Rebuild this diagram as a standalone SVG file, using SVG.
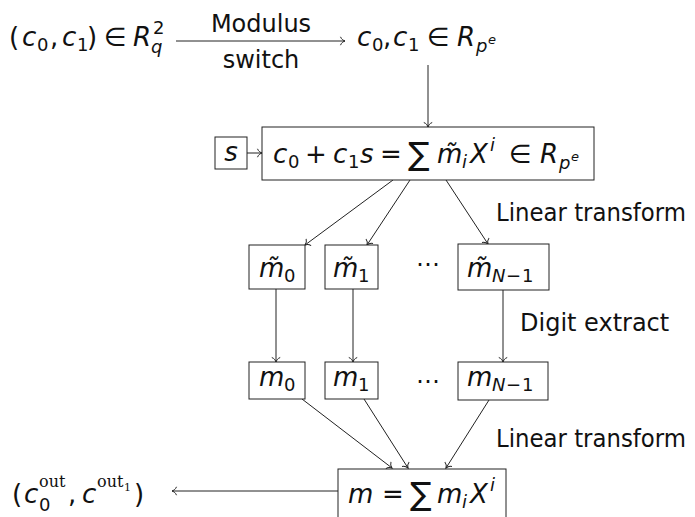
<svg xmlns="http://www.w3.org/2000/svg" width="695" height="517" viewBox="0 0 695 517">
<defs>
<marker id="to" viewBox="-6 -6 8 12" markerWidth="8" markerHeight="12" refX="0" refY="0" orient="auto" markerUnits="userSpaceOnUse">
<path d="M-4.5,-4.2 C-3.6,-1.6 -1.3,-0.4 0,0 C-1.3,0.4 -3.6,1.6 -4.5,4.2" fill="none" stroke="#222" stroke-width="1"/>
</marker>
</defs>
<style>
text{font-family:"DejaVu Sans",sans-serif;font-size:24px;fill:#111}
.m{font-size:26px}
.i{font-style:italic;font-size:26px}
.s{font-size:18px}
.ss{font-size:13px}
.sum{font-size:32px}
.rm{font-family:"DejaVu Serif","Liberation Serif",serif;font-style:normal;font-size:16px}
.rms{font-family:"DejaVu Serif","Liberation Serif",serif;font-style:normal;font-size:11px}
.box{fill:#fff;stroke:#222;stroke-width:1}
.edge{fill:none;stroke:#222;stroke-width:1;marker-end:url(#to)}
.mid{text-anchor:middle}
</style>
<g id="connectors">
<path class="edge" d="M176,41 H345"/>
<path class="edge" d="M428,65 V127"/>
<path class="edge" d="M247,153 H262"/>
<path class="edge" d="M393,180 L305,245"/>
<path class="edge" d="M410,180 L367,245"/>
<path class="edge" d="M446,180 L488,244"/>
<path class="edge" d="M276,289 V362"/>
<path class="edge" d="M353,289 V362"/>
<path class="edge" d="M503,290 V362"/>
<path class="edge" d="M302,399 L392,468"/>
<path class="edge" d="M364,399 L408,468"/>
<path class="edge" d="M489,400 L446,468"/>
<path class="edge" d="M338,491 H172"/>
</g>
<g id="edge-labels">
<text class="mid" x="261" y="32">Modulus</text>
<text class="mid" x="261" y="68">switch</text>
<text x="496" y="221" textLength="190" lengthAdjust="spacingAndGlyphs">Linear transform</text>
<text x="520" y="331">Digit extract</text>
<text x="496" y="447" textLength="190" lengthAdjust="spacingAndGlyphs">Linear transform</text>
</g>
<g id="input">
<text><tspan class="m" x="9" y="46">(</tspan><tspan class="i" x="22" y="46">c</tspan><tspan class="s" x="37" y="51">0</tspan><tspan class="m" x="50" y="46">,</tspan><tspan class="i" x="62" y="46">c</tspan><tspan class="s" x="77" y="51">1</tspan><tspan class="m" x="87" y="46">)</tspan><tspan class="m" x="104" y="46">∈</tspan><tspan class="i" x="133" y="46">R</tspan><tspan class="i s" x="151" y="53">q</tspan><tspan class="s" x="153" y="34">2</tspan></text>
</g>
<g id="switched">
<text><tspan class="i" x="357" y="46">c</tspan><tspan class="s" x="372" y="51">0</tspan><tspan class="m" x="383" y="46">,</tspan><tspan class="i" x="393" y="46">c</tspan><tspan class="s" x="408" y="51">1</tspan><tspan class="m" x="427" y="46">∈</tspan><tspan class="i" x="457" y="46">R</tspan><tspan class="i s" x="476" y="52">p</tspan><tspan class="i ss" x="488" y="44">e</tspan></text>
</g>
<g id="s">
<rect class="box" x="215" y="137" width="32" height="32"/>
<text class="i mid" x="231" y="161">s</text>
</g>
<g id="poly">
<rect class="box" x="262" y="127" width="332" height="53"/>
<text><tspan class="i" x="273" y="163">c</tspan><tspan class="s" x="288" y="168">0</tspan><tspan class="m" x="305" y="163">+</tspan><tspan class="i" x="333" y="163">c</tspan><tspan class="s" x="348" y="168">1</tspan><tspan class="i" x="360" y="163">s</tspan><tspan class="m" x="380" y="163">=</tspan><tspan class="sum" x="408" y="165">∑</tspan><tspan class="i" x="437" y="163">m̃</tspan><tspan class="i s" x="462" y="168">i</tspan><tspan class="i" x="470" y="163">X</tspan><tspan class="i s" x="490" y="151">i</tspan><tspan class="m" x="509" y="163">∈</tspan><tspan class="i" x="540" y="163">R</tspan><tspan class="i s" x="559" y="169">p</tspan><tspan class="i ss" x="571" y="161">e</tspan></text>
</g>
<g id="mt0">
<rect class="box" x="249" y="245" width="56" height="44"/>
<text><tspan class="i" x="259" y="277">m̃</tspan><tspan class="s" x="284" y="282">0</tspan></text>
</g>
<g id="mt1">
<rect class="box" x="325" y="245" width="53" height="44"/>
<text><tspan class="i" x="333" y="277">m̃</tspan><tspan class="s" x="358" y="282">1</tspan></text>
</g>
<g id="dots1"><text class="mid" x="428" y="272">⋯</text></g>
<g id="mtN">
<rect class="box" x="458" y="244" width="91" height="46"/>
<text><tspan class="i" x="467" y="277">m̃</tspan><tspan class="i s" x="492" y="282">N</tspan><tspan class="s" x="506" y="282">−</tspan><tspan class="s" x="522" y="282">1</tspan></text>
</g>
<g id="m0">
<rect class="box" x="249" y="362" width="56" height="37"/>
<text><tspan class="i" x="259" y="386">m</tspan><tspan class="s" x="284" y="391">0</tspan></text>
</g>
<g id="m1">
<rect class="box" x="325" y="362" width="53" height="37"/>
<text><tspan class="i" x="333" y="386">m</tspan><tspan class="s" x="358" y="391">1</tspan></text>
</g>
<g id="dots2"><text class="mid" x="428" y="389">⋯</text></g>
<g id="mN">
<rect class="box" x="458" y="362" width="90" height="38"/>
<text><tspan class="i" x="467" y="386">m</tspan><tspan class="i s" x="492" y="391">N</tspan><tspan class="s" x="506" y="391">−</tspan><tspan class="s" x="522" y="391">1</tspan></text>
</g>
<g id="m">
<rect class="box" x="338" y="469" width="168" height="60"/>
<text><tspan class="i" x="348" y="503">m</tspan><tspan class="m" x="382" y="503">=</tspan><tspan class="sum" x="410" y="505">∑</tspan><tspan class="i" x="437" y="503">m</tspan><tspan class="i s" x="462" y="508">i</tspan><tspan class="i" x="470" y="503">X</tspan><tspan class="i s" x="490" y="491">i</tspan></text>
</g>
<g id="output">
<text><tspan class="m" x="12" y="503">(</tspan><tspan class="i" x="24" y="503">c</tspan><tspan class="rm" x="39" y="487">out</tspan><tspan class="s" x="39" y="511">0</tspan><tspan class="m" x="68" y="503">,</tspan><tspan class="i" x="82" y="503">c</tspan><tspan class="rm" x="97" y="487">out</tspan><tspan class="rms" x="124" y="491">1</tspan><tspan class="m" x="134" y="503">)</tspan></text>
</g>
</svg>
